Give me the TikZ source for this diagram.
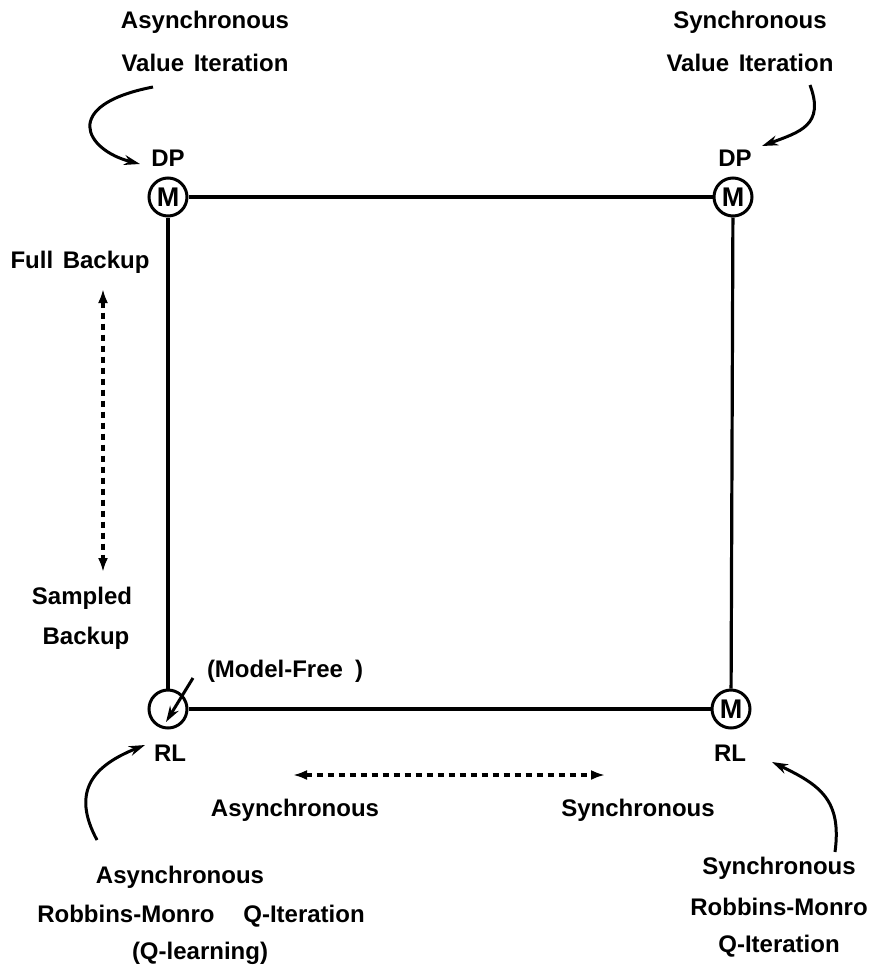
\documentclass[tikz,border=0pt]{standalone}
\usepackage{fontspec}
\setmainfont{Liberation Sans}
\usetikzlibrary{arrows.meta}
\begin{document}
\begin{tikzpicture}[x=1pt,y=-1pt,
  lbl/.style={inner sep=0pt, align=center, font=\fontsize{24}{28}\bfseries},
  corner/.style={circle, draw, line width=3pt, minimum size=38pt, inner sep=0pt,
                 font=\fontsize{27}{30}\bfseries},
  edge/.style={line width=3.2pt},
  dashedarrow/.style={line width=3.2pt, dash pattern=on 6pt off 5pt,
                      {Latex[length=14pt,width=10pt]}-{Latex[length=14pt,width=10pt]}},
  curvearrow/.style={line width=3pt, -{Stealth[length=16pt,width=10pt]}}]
\useasboundingbox (0,0) rectangle (869,975);

% corner circles
\node[corner] (tl) at (168,197) {M};
\node[corner] (tr) at (733,197) {M};
\node[corner] (bl) at (168,709) {};
\node[corner] (br) at (731,709) {M};

% sides of the square
\draw[edge] (tl) -- (tr);
\draw[edge] (tl) -- (bl);
\draw[edge] (tr) -- (br);
\draw[edge] (bl) -- (br);

% corner labels
\node[lbl] (dpl) at (168,158) {DP};
\node[lbl] (dpr) at (735,158) {DP};
\node[lbl] (rll) at (170,753) {RL};
\node[lbl] (rlr) at (730,753) {RL};

% top algorithm names
\node[lbl] (avi1) at (205,22) {Asynchronous};
\node[lbl] (avi2) at (205,63) {Value\hspace{0.4em}Iteration};
\node[lbl] (svi1) at (750,22) {Synchronous};
\node[lbl] (svi2) at (750,63) {Value\hspace{0.4em}Iteration};

% backup axis
\node[lbl] (full) at (80,262) {Full\hspace{0.4em}Backup};
\node[lbl] (samp1) at (82,598) {Sampled};
\node[lbl] (samp2) at (86,638) {Backup};
\coordinate (vtop) at (103,289);
\coordinate (vbot) at (103,572);
\draw[dashedarrow] (vtop) -- (vbot);

% synchrony axis
\coordinate (hl) at (293,775);
\coordinate (hr) at (605,775);
\draw[dashedarrow] (hl) -- (hr);
\node[lbl] (async) at (295,810) {Asynchronous};
\node[lbl] (sync) at (638,810) {Synchronous};

% model-free remark
\node[lbl] (mf) at (285,671) {(Model-Free\hspace{0.5em})};
\coordinate (mfs) at (193,678);
\coordinate (mfe) at (166,722);
\draw[curvearrow] (mfs) -- (mfe);

% bottom algorithm names
\node[lbl] (aq1) at (180,877) {Asynchronous};
\node[lbl] (aq2) at (201,916) {Robbins-Monro\hspace{1.2em}Q-Iteration};
\node[lbl] (aq3) at (200,953) {(Q-learning)};
\node[lbl] (sq1) at (779,868) {Synchronous};
\node[lbl] (sq2) at (779,907) {Robbins-Monro};
\node[lbl] (sq3) at (779,946) {Q-Iteration};

% curved pointers
\coordinate (c1s) at (153,87);  \coordinate (c1e) at (140,164);
\draw[curvearrow] (c1s) .. controls (60,105) and (85,150) .. (c1e);
\coordinate (c2s) at (810,85);  \coordinate (c2e) at (762,146);
\draw[curvearrow] (c2s) .. controls (825,125) and (800,132) .. (c2e);
\coordinate (c3s) at (97,840);  \coordinate (c3e) at (145,745);
\draw[curvearrow] (c3s) .. controls (70,790) and (95,765) .. (c3e);
\coordinate (c4s) at (835,852); \coordinate (c4e) at (772,762);
\draw[curvearrow] (c4s) .. controls (842,800) and (820,785) .. (c4e);
\end{tikzpicture}
\end{document}
